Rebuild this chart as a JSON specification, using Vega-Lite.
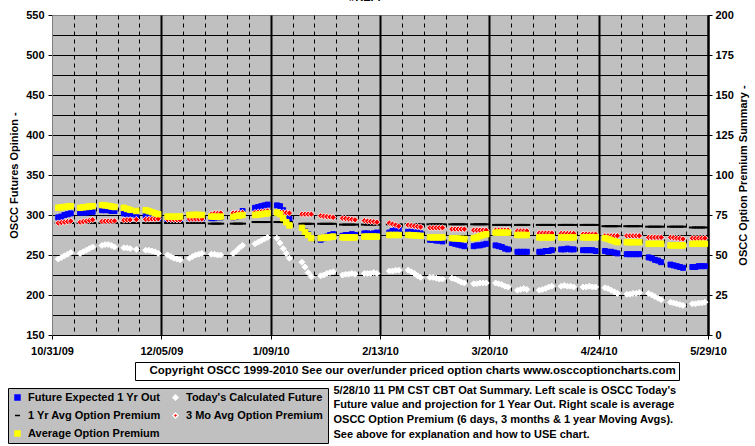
{
"$schema": "https://vega.github.io/schema/vega-lite/v6.json",
"width": 656, "height": 320,
"autosize": {"type": "none"},
"padding": {"left": 52, "top": 15, "right": 47, "bottom": 111},
"background": "#ffffff",
"title": {"text": "#REF!", "fontSize": 11, "fontWeight": "bold", "font": "Liberation Sans", "color": "#000000", "anchor": "middle", "dx": -15, "dy": -6, "offset": 0},
"data": {"values": [
{"d":"2009/11/02","f1":297,"f2":245,"p1":70,"p2":70.0,"p3":79.5},
{"d":"2009/11/03","f1":298,"f2":247,"p1":70,"p2":70.3,"p3":79.8},
{"d":"2009/11/04","f1":300,"f2":249,"p1":70,"p2":70.6,"p3":80.0},
{"d":"2009/11/05","f1":301,"f2":251,"p1":70,"p2":70.9,"p3":80.3},
{"d":"2009/11/06","f1":302,"f2":253,"p1":70,"p2":71.2,"p3":80.5},
{"d":"2009/11/09","f1":303,"f2":252,"p1":70,"p2":70.5,"p3":79.5},
{"d":"2009/11/10","f1":303,"f2":254,"p1":70,"p2":70.9,"p3":79.8},
{"d":"2009/11/11","f1":303,"f2":256,"p1":70,"p2":71.2,"p3":80.0},
{"d":"2009/11/12","f1":304,"f2":258,"p1":70,"p2":71.6,"p3":80.3},
{"d":"2009/11/13","f1":304,"f2":260,"p1":70,"p2":72.0,"p3":80.5},
{"d":"2009/11/16","f1":306,"f2":262,"p1":70,"p2":71.0,"p3":81.2},
{"d":"2009/11/17","f1":306,"f2":263,"p1":70,"p2":71.1,"p3":81.0},
{"d":"2009/11/18","f1":306,"f2":263,"p1":70,"p2":71.2,"p3":80.7},
{"d":"2009/11/19","f1":305,"f2":262,"p1":70,"p2":71.2,"p3":80.3},
{"d":"2009/11/20","f1":305,"f2":260,"p1":70,"p2":71.3,"p3":80.0},
{"d":"2009/11/23","f1":302,"f2":259,"p1":70,"p2":71.8,"p3":79.5},
{"d":"2009/11/24","f1":301,"f2":259,"p1":70,"p2":72.0,"p3":78.8},
{"d":"2009/11/25","f1":301,"f2":258,"p1":70,"p2":72.0,"p3":78.2},
{"d":"2009/11/27","f1":300,"f2":257,"p1":70,"p2":72.2,"p3":77.5},
{"d":"2009/11/30","f1":299,"f2":256,"p1":70,"p2":72.3,"p3":78.0},
{"d":"2009/12/01","f1":298,"f2":256,"p1":70,"p2":72.4,"p3":77.4},
{"d":"2009/12/02","f1":297,"f2":255,"p1":70,"p2":72.5,"p3":76.8},
{"d":"2009/12/03","f1":297,"f2":254,"p1":70,"p2":72.5,"p3":76.1},
{"d":"2009/12/04","f1":296,"f2":252,"p1":70,"p2":72.6,"p3":75.5},
{"d":"2009/12/07","f1":294,"f2":250,"p1":70,"p2":72.3,"p3":74.0},
{"d":"2009/12/08","f1":294,"f2":248,"p1":70,"p2":72.2,"p3":74.0},
{"d":"2009/12/09","f1":293,"f2":246,"p1":70,"p2":72.1,"p3":73.8},
{"d":"2009/12/10","f1":294,"f2":245,"p1":70,"p2":72.0,"p3":74.0},
{"d":"2009/12/11","f1":294,"f2":244,"p1":70,"p2":72.0,"p3":74.0},
{"d":"2009/12/14","f1":296,"f2":246,"p1":70,"p2":72.5,"p3":75.0},
{"d":"2009/12/15","f1":296,"f2":248,"p1":70,"p2":72.5,"p3":75.0},
{"d":"2009/12/16","f1":296,"f2":250,"p1":70,"p2":72.5,"p3":75.2},
{"d":"2009/12/17","f1":296,"f2":251,"p1":70,"p2":72.5,"p3":75.0},
{"d":"2009/12/18","f1":296,"f2":252,"p1":70,"p2":72.5,"p3":75.0},
{"d":"2009/12/21","f1":296,"f2":251,"p1":69.6,"p2":75.5,"p3":74.0},
{"d":"2009/12/22","f1":296,"f2":251,"p1":69.6,"p2":76.0,"p3":74.0},
{"d":"2009/12/23","f1":297,"f2":250,"p1":69.6,"p2":76.0,"p3":73.8},
{"d":"2009/12/24","f1":297,"f2":250,"p1":69.6,"p2":76.2,"p3":74.0},
{"d":"2009/12/28","f1":297,"f2":252,"p1":69.6,"p2":76.2,"p3":73.8},
{"d":"2009/12/29","f1":298,"f2":255,"p1":69.6,"p2":76.3,"p3":74.3},
{"d":"2009/12/30","f1":300,"f2":259,"p1":69.6,"p2":76.3,"p3":74.7},
{"d":"2009/12/31","f1":305,"f2":262,"p1":69.6,"p2":76.5,"p3":75.0},
{"d":"2010/01/04","f1":309,"f2":264,"p1":70.6,"p2":76.5,"p3":75.0},
{"d":"2010/01/05","f1":310,"f2":266,"p1":70.6,"p2":76.8,"p3":75.3},
{"d":"2010/01/06","f1":311,"f2":268,"p1":70.6,"p2":77.0,"p3":75.5},
{"d":"2010/01/07","f1":312,"f2":270,"p1":70.6,"p2":77.3,"p3":75.8},
{"d":"2010/01/08","f1":313,"f2":272,"p1":70.6,"p2":77.5,"p3":76.0},
{"d":"2010/01/11","f1":312,"f2":271,"p1":70.6,"p2":77.0,"p3":76.5},
{"d":"2010/01/12","f1":311,"f2":265,"p1":70.6,"p2":76.8,"p3":75.5},
{"d":"2010/01/13","f1":306,"f2":258,"p1":70.6,"p2":76.6,"p3":73.0},
{"d":"2010/01/14","f1":300,"f2":252,"p1":70.6,"p2":76.4,"p3":70.5},
{"d":"2010/01/15","f1":295,"f2":246,"p1":70.6,"p2":76.2,"p3":68.5},
{"d":"2010/01/19","f1":286,"f2":241,"p1":69.5,"p2":75.5,"p3":67.0},
{"d":"2010/01/20","f1":280,"f2":235,"p1":69.5,"p2":75.5,"p3":64.5},
{"d":"2010/01/21","f1":276,"f2":228,"p1":69.5,"p2":75.5,"p3":62.5},
{"d":"2010/01/22","f1":271,"f2":223,"p1":69.5,"p2":75.5,"p3":60.5},
{"d":"2010/01/25","f1":269,"f2":224,"p1":69.5,"p2":74.5,"p3":60.5},
{"d":"2010/01/26","f1":271,"f2":225,"p1":69.5,"p2":74.2,"p3":60.8},
{"d":"2010/01/27","f1":273,"f2":227,"p1":69.5,"p2":74.0,"p3":61.0},
{"d":"2010/01/28","f1":275,"f2":228,"p1":69.5,"p2":73.8,"p3":61.2},
{"d":"2010/01/29","f1":276,"f2":229,"p1":69.5,"p2":73.5,"p3":61.5},
{"d":"2010/02/01","f1":274,"f2":225,"p1":69.0,"p2":73.0,"p3":61.0},
{"d":"2010/02/02","f1":275,"f2":226,"p1":69.0,"p2":72.8,"p3":61.0},
{"d":"2010/02/03","f1":275,"f2":226,"p1":69.0,"p2":72.5,"p3":61.0},
{"d":"2010/02/04","f1":276,"f2":227,"p1":69.0,"p2":72.3,"p3":61.0},
{"d":"2010/02/05","f1":275,"f2":226,"p1":69.0,"p2":72.0,"p3":61.0},
{"d":"2010/02/08","f1":277,"f2":227,"p1":69.0,"p2":71.5,"p3":61.5},
{"d":"2010/02/09","f1":277,"f2":227,"p1":69.0,"p2":71.2,"p3":61.5},
{"d":"2010/02/10","f1":276,"f2":227,"p1":69.0,"p2":71.0,"p3":61.5},
{"d":"2010/02/11","f1":277,"f2":228,"p1":69.0,"p2":70.8,"p3":61.5},
{"d":"2010/02/12","f1":278,"f2":227,"p1":69.0,"p2":70.5,"p3":61.5},
{"d":"2010/02/16","f1":278,"f2":230,"p1":69.2,"p2":70.0,"p3":62.5},
{"d":"2010/02/17","f1":280,"f2":230,"p1":69.2,"p2":69.3,"p3":62.5},
{"d":"2010/02/18","f1":281,"f2":231,"p1":69.2,"p2":68.7,"p3":62.5},
{"d":"2010/02/19","f1":282,"f2":231,"p1":69.2,"p2":68.0,"p3":62.5},
{"d":"2010/02/22","f1":279,"f2":231,"p1":69.2,"p2":68.7,"p3":62.5},
{"d":"2010/02/23","f1":279,"f2":229,"p1":69.2,"p2":68.4,"p3":62.4},
{"d":"2010/02/24","f1":278,"f2":227,"p1":69.2,"p2":68.1,"p3":62.3},
{"d":"2010/02/25","f1":278,"f2":224,"p1":69.2,"p2":67.8,"p3":62.1},
{"d":"2010/02/26","f1":277,"f2":222,"p1":69.2,"p2":67.5,"p3":62.0},
{"d":"2010/03/01","f1":269,"f2":222,"p1":69.2,"p2":67.0,"p3":61.0},
{"d":"2010/03/02","f1":269,"f2":222,"p1":69.2,"p2":67.0,"p3":61.0},
{"d":"2010/03/03","f1":268,"f2":221,"p1":69.2,"p2":67.0,"p3":61.0},
{"d":"2010/03/04","f1":268,"f2":220,"p1":69.2,"p2":67.0,"p3":61.0},
{"d":"2010/03/05","f1":267,"f2":220,"p1":69.2,"p2":67.0,"p3":61.0},
{"d":"2010/03/08","f1":265,"f2":221,"p1":69.2,"p2":66.2,"p3":60.5},
{"d":"2010/03/09","f1":264,"f2":220,"p1":69.2,"p2":66.2,"p3":60.4},
{"d":"2010/03/10","f1":263,"f2":218,"p1":69.2,"p2":66.2,"p3":60.3},
{"d":"2010/03/11","f1":262,"f2":216,"p1":69.2,"p2":66.2,"p3":60.1},
{"d":"2010/03/12","f1":261,"f2":215,"p1":69.2,"p2":66.2,"p3":60.0},
{"d":"2010/03/15","f1":261,"f2":214,"p1":69.2,"p2":65.5,"p3":60.5},
{"d":"2010/03/16","f1":262,"f2":214,"p1":69.2,"p2":65.5,"p3":61.0},
{"d":"2010/03/17","f1":262,"f2":215,"p1":69.2,"p2":65.5,"p3":61.8},
{"d":"2010/03/18","f1":263,"f2":215,"p1":69.2,"p2":65.5,"p3":62.5},
{"d":"2010/03/19","f1":264,"f2":215,"p1":69.2,"p2":65.5,"p3":63.0},
{"d":"2010/03/22","f1":262,"f2":215,"p1":68.8,"p2":65.5,"p3":64.0},
{"d":"2010/03/23","f1":261,"f2":214,"p1":68.8,"p2":65.5,"p3":64.0},
{"d":"2010/03/24","f1":260,"f2":213,"p1":68.8,"p2":65.5,"p3":64.0},
{"d":"2010/03/25","f1":258,"f2":211,"p1":68.8,"p2":65.5,"p3":64.0},
{"d":"2010/03/26","f1":257,"f2":210,"p1":68.8,"p2":65.5,"p3":64.0},
{"d":"2010/03/29","f1":254,"f2":206,"p1":68.8,"p2":65.0,"p3":62.5},
{"d":"2010/03/30","f1":254,"f2":207,"p1":68.8,"p2":65.0,"p3":62.5},
{"d":"2010/03/31","f1":254,"f2":208,"p1":68.8,"p2":65.0,"p3":62.5},
{"d":"2010/04/01","f1":254,"f2":207,"p1":68.8,"p2":65.0,"p3":62.5},
{"d":"2010/04/05","f1":254,"f2":206,"p1":68.8,"p2":63.7,"p3":61.0},
{"d":"2010/04/06","f1":254,"f2":207,"p1":68.8,"p2":63.7,"p3":61.0},
{"d":"2010/04/07","f1":255,"f2":208,"p1":68.8,"p2":63.7,"p3":61.0},
{"d":"2010/04/08","f1":255,"f2":210,"p1":68.8,"p2":63.7,"p3":61.0},
{"d":"2010/04/09","f1":256,"f2":211,"p1":68.8,"p2":63.7,"p3":61.0},
{"d":"2010/04/12","f1":257,"f2":211,"p1":68.8,"p2":63.5,"p3":61.0},
{"d":"2010/04/13","f1":257,"f2":212,"p1":68.8,"p2":63.5,"p3":61.0},
{"d":"2010/04/14","f1":258,"f2":211,"p1":68.8,"p2":63.5,"p3":61.0},
{"d":"2010/04/15","f1":257,"f2":211,"p1":68.8,"p2":63.5,"p3":61.0},
{"d":"2010/04/16","f1":257,"f2":210,"p1":68.8,"p2":63.5,"p3":61.0},
{"d":"2010/04/19","f1":256,"f2":210,"p1":68.8,"p2":63.0,"p3":61.0},
{"d":"2010/04/20","f1":256,"f2":210,"p1":68.8,"p2":63.0,"p3":61.0},
{"d":"2010/04/21","f1":256,"f2":211,"p1":68.8,"p2":63.0,"p3":61.0},
{"d":"2010/04/22","f1":256,"f2":210,"p1":68.8,"p2":63.0,"p3":61.0},
{"d":"2010/04/23","f1":255,"f2":210,"p1":68.8,"p2":63.0,"p3":61.0},
{"d":"2010/04/26","f1":255,"f2":209,"p1":68.0,"p2":62.0,"p3":60.5},
{"d":"2010/04/27","f1":254,"f2":208,"p1":68.0,"p2":62.0,"p3":60.0},
{"d":"2010/04/28","f1":254,"f2":206,"p1":68.0,"p2":62.0,"p3":59.3},
{"d":"2010/04/29","f1":253,"f2":204,"p1":68.0,"p2":62.0,"p3":58.6},
{"d":"2010/04/30","f1":252,"f2":202,"p1":68.0,"p2":62.0,"p3":58.0},
{"d":"2010/05/03","f1":251,"f2":201,"p1":68.0,"p2":62.0,"p3":58.0},
{"d":"2010/05/04","f1":251,"f2":201,"p1":68.0,"p2":62.0,"p3":58.0},
{"d":"2010/05/05","f1":251,"f2":202,"p1":68.0,"p2":62.0,"p3":58.0},
{"d":"2010/05/06","f1":251,"f2":202,"p1":68.0,"p2":62.0,"p3":58.0},
{"d":"2010/05/07","f1":251,"f2":203,"p1":68.0,"p2":62.0,"p3":58.0},
{"d":"2010/05/10","f1":247,"f2":202,"p1":67.7,"p2":61.0,"p3":57.0},
{"d":"2010/05/11","f1":246,"f2":200,"p1":67.7,"p2":61.0,"p3":57.0},
{"d":"2010/05/12","f1":244,"f2":198,"p1":67.7,"p2":61.0,"p3":57.0},
{"d":"2010/05/13","f1":243,"f2":196,"p1":67.7,"p2":61.0,"p3":57.0},
{"d":"2010/05/14","f1":241,"f2":194,"p1":67.7,"p2":61.0,"p3":57.0},
{"d":"2010/05/17","f1":238,"f2":191,"p1":67.7,"p2":61.0,"p3":56.0},
{"d":"2010/05/18","f1":237,"f2":190,"p1":67.7,"p2":60.8,"p3":56.0},
{"d":"2010/05/19","f1":236,"f2":189,"p1":67.7,"p2":60.5,"p3":56.0},
{"d":"2010/05/20","f1":235,"f2":188,"p1":67.7,"p2":60.3,"p3":56.0},
{"d":"2010/05/21","f1":234,"f2":187,"p1":67.7,"p2":60.0,"p3":56.0},
{"d":"2010/05/24","f1":235,"f2":189,"p1":67.2,"p2":60.5,"p3":57.0},
{"d":"2010/05/25","f1":235,"f2":189,"p1":67.2,"p2":60.5,"p3":57.0},
{"d":"2010/05/26","f1":236,"f2":190,"p1":67.2,"p2":60.5,"p3":57.0},
{"d":"2010/05/27","f1":236,"f2":190,"p1":67.2,"p2":60.5,"p3":57.0},
{"d":"2010/05/28","f1":236,"f2":191,"p1":67.2,"p2":60.5,"p3":57.0}
]},
"encoding": {
  "x": {"field": "d", "type": "temporal",
    "scale": {"domain": [{"year": 2009, "month": 10, "date": 31}, {"year": 2010, "month": 5, "date": 29}]},
    "axis": {
      "values": [
        {"year":2009,"month":10,"date":31},{"year":2009,"month":11,"date":7},{"year":2009,"month":11,"date":14},{"year":2009,"month":11,"date":21},{"year":2009,"month":11,"date":28},
        {"year":2009,"month":12,"date":5},{"year":2009,"month":12,"date":12},{"year":2009,"month":12,"date":19},{"year":2009,"month":12,"date":26},{"year":2010,"month":1,"date":2},
        {"year":2010,"month":1,"date":9},{"year":2010,"month":1,"date":16},{"year":2010,"month":1,"date":23},{"year":2010,"month":1,"date":30},{"year":2010,"month":2,"date":6},
        {"year":2010,"month":2,"date":13},{"year":2010,"month":2,"date":20},{"year":2010,"month":2,"date":27},{"year":2010,"month":3,"date":6},{"year":2010,"month":3,"date":13},
        {"year":2010,"month":3,"date":20},{"year":2010,"month":3,"date":27},{"year":2010,"month":4,"date":3},{"year":2010,"month":4,"date":10},{"year":2010,"month":4,"date":17},
        {"year":2010,"month":4,"date":24},{"year":2010,"month":5,"date":1},{"year":2010,"month":5,"date":8},{"year":2010,"month":5,"date":15},{"year":2010,"month":5,"date":22},
        {"year":2010,"month":5,"date":29}
      ],
      "format": "%-m/%d/%y",
      "labelExpr": "round((datum.value - datetime(2009,9,31))/604800000) % 5 == 0 ? datum.label : ''",
      "labelOverlap": false, "labelFlush": false,
      "labelFontSize": 11, "labelFontWeight": "bold", "labelColor": "#000000", "labelPadding": 6,
      "tickSize": 4, "tickColor": "#000000",
      "tickOpacity": {"condition": {"test": "round((datum.value - datetime(2009,9,31))/604800000) % 5 == 0", "value": 1}, "value": 0},
      "domainColor": "#000000", "domainWidth": 1,
      "grid": true, "gridColor": "#000000",
      "gridDash": {"condition": {"test": "round((datum.value - datetime(2009,9,31))/604800000) % 5 == 0", "value": []}, "value": [4, 4]},
      "gridWidth": {"condition": {"test": "round((datum.value - datetime(2009,9,31))/604800000) % 5 == 0", "value": 2}, "value": 1},
      "gridOpacity": {"condition": {"test": "datum.value < datetime(2009,10,1)", "value": 0}, "value": 1},
      "title": ["5/28/10 11 PM CST CBT Oat Summary. Left scale is OSCC Today's", "Future value and projection for 1 Year Out. Right scale is average", "OSCC Option Premium (6  days, 3 months & 1 year Moving  Avgs).", "See above for explanation and how to USE chart."],
      "titleFontSize": 11, "titleFontWeight": "bold", "titleColor": "#000000",
      "titleAlign": "left", "titleBaseline": "top", "titleAngle": 0,
      "titleX": 281, "titleY": 49, "titleLineHeight": 14.7
    }
  },
  "fill": {"field": "key", "type": "nominal",
    "scale": {"domain": ["f1", "p1", "p3", "f2", "p2"], "range": ["#0000ff", "#000000", "#ffff00", "#ffffff", "#ff0000"]},
    "legend": {"orient": "none", "legendX": -44, "legendY": 373, "title": null, "columns": 2, "columnPadding": 9, "rowPadding": 6, "padding": 4, "symbolSize": 25, "symbolStrokeWidth": 1.5, "symbolOpacity": 1, "labelOffset": 5, "labelFontSize": 11, "labelFontWeight": "bold", "labelColor": "#000000", "labelLimit": 0, "fillColor": "#c0c0c0", "strokeColor": "#000000",
      "labelExpr": "datum.label == 'f1' ? 'Future Expected 1 Yr Out' : datum.label == 'f2' ? \"Today's Calculated Future\" : datum.label == 'p1' ? '1 Yr Avg Option Premium' : datum.label == 'p2' ? '3 Mo Avg Option Premium' : 'Average Option Premium'"}
  },
  "stroke": {"field": "key", "type": "nominal",
    "scale": {"domain": ["f1", "p1", "p3", "f2", "p2"], "range": ["#0000ff", "#000000", "#ffff00", "#ffffff", "#ffffff"]},
    "legend": {"orient": "none", "legendX": -44, "legendY": 373, "title": null, "columns": 2, "columnPadding": 9, "rowPadding": 6, "padding": 4, "symbolSize": 25, "symbolStrokeWidth": 1.5, "symbolOpacity": 1, "labelOffset": 5, "labelFontSize": 11, "labelFontWeight": "bold", "labelColor": "#000000", "labelLimit": 0, "fillColor": "#c0c0c0", "strokeColor": "#000000",
      "labelExpr": "datum.label == 'f1' ? 'Future Expected 1 Yr Out' : datum.label == 'f2' ? \"Today's Calculated Future\" : datum.label == 'p1' ? '1 Yr Avg Option Premium' : datum.label == 'p2' ? '3 Mo Avg Option Premium' : 'Average Option Premium'"}
  },
  "shape": {"field": "key", "type": "nominal",
    "scale": {"domain": ["f1", "p1", "p3", "f2", "p2"], "range": ["square", "stroke", "square", "diamond", "diamond"]},
    "legend": {"orient": "none", "legendX": -44, "legendY": 373, "title": null, "columns": 2, "columnPadding": 9, "rowPadding": 6, "padding": 4, "symbolSize": 25, "symbolStrokeWidth": 1.5, "symbolOpacity": 1, "labelOffset": 5, "labelFontSize": 11, "labelFontWeight": "bold", "labelColor": "#000000", "labelLimit": 0, "fillColor": "#c0c0c0", "strokeColor": "#000000",
      "labelExpr": "datum.label == 'f1' ? 'Future Expected 1 Yr Out' : datum.label == 'f2' ? \"Today's Calculated Future\" : datum.label == 'p1' ? '1 Yr Avg Option Premium' : datum.label == 'p2' ? '3 Mo Avg Option Premium' : 'Average Option Premium'"}
  }
},
"layer": [
  {
    "encoding": {
      "y": {"field": "val", "type": "quantitative",
        "scale": {"domain": [150, 550], "nice": false, "zero": false},
        "axis": {"orient": "left",
          "values": [150, 175, 200, 225, 250, 275, 300, 325, 350, 375, 400, 425, 450, 475, 500, 525, 550],
          "labelExpr": "datum.value % 50 == 0 ? datum.label : ''",
          "labelOverlap": false, "labelFlush": false,
          "labelFontSize": 11, "labelFontWeight": "bold", "labelColor": "#000000", "labelPadding": 4,
          "tickSize": 4, "tickColor": "#000000",
          "tickOpacity": {"condition": {"test": "datum.value % 50 == 0", "value": 1}, "value": 0},
          "domainColor": "#808080",
          "grid": true, "gridColor": "#000000", "gridWidth": 1,
          "gridOpacity": {"condition": {"test": "datum.value >= 550", "value": 0}, "value": 1},
          "title": "OSCC Futures Opinion -", "titleFontSize": 11, "titleFontWeight": "bold", "titleColor": "#000000", "titlePadding": 6}
      }
    },
    "layer": [
      {
        "transform": [{"fold": ["f1"], "as": ["key", "val"]}],
        "mark": {"type": "point", "filled": true, "size": 25, "strokeWidth": 1, "opacity": 1},
        "encoding": {
          "opacity": {"datum": "Copyright OSCC 1999-2010 See our over/under priced option charts www.osccoptioncharts.com", "type": "ordinal",
            "scale": {"range": [1, 1]},
            "legend": {"orient": "none", "legendX": 83, "legendY": 347, "title": null, "padding": 3, "symbolSize": 0, "symbolOpacity": 0, "symbolStrokeWidth": 0, "labelOffset": 0, "labelFontSize": 11.5, "labelFontWeight": "bold", "labelColor": "#000000", "labelLimit": 0, "fillColor": "#ffffff", "strokeColor": "#000000"}
          }
        }
      },
      {
        "transform": [{"fold": ["f2"], "as": ["key", "val"]}],
        "mark": {"type": "point", "filled": true, "size": 36, "strokeWidth": 1, "opacity": 1}
      }
    ]
  },
  {
    "encoding": {
      "y": {"field": "val", "type": "quantitative",
        "scale": {"domain": [0, 200], "nice": false},
        "axis": {"orient": "right",
          "values": [0, 25, 50, 75, 100, 125, 150, 175, 200],
          "labelOverlap": false, "labelFlush": false,
          "labelFontSize": 11, "labelFontWeight": "bold", "labelColor": "#000000", "labelPadding": 3,
          "tickSize": 4, "tickColor": "#000000",
          "domainColor": "#000000", "domainWidth": 2,
          "grid": false,
          "title": "OSCC Option Premium Summary -", "titleAngle": 270, "titleBaseline": "top", "titleFontSize": 11, "titleFontWeight": "bold", "titleColor": "#000000", "titlePadding": 4}
      }
    },
    "layer": [
      {
        "transform": [{"fold": ["p1"], "as": ["key", "val"]}],
        "mark": {"type": "point", "filled": true, "size": 49, "strokeWidth": 2, "opacity": 1}
      },
      {
        "transform": [{"fold": ["p2"], "as": ["key", "val"]}],
        "mark": {"type": "point", "filled": true, "size": 40, "strokeWidth": 0.8, "opacity": 1}
      },
      {
        "transform": [{"fold": ["p3"], "as": ["key", "val"]}],
        "mark": {"type": "point", "filled": true, "size": 30, "strokeWidth": 1, "opacity": 1}
      }
    ]
  }
],
"resolve": {"scale": {"y": "independent"}},
"config": {
  "font": "Liberation Sans",
  "view": {"fill": "#c0c0c0", "stroke": "#808080", "strokeWidth": 1},
  "axis": {"labelFont": "Liberation Sans", "titleFont": "Liberation Sans"},
  "legend": {"labelFont": "Liberation Sans", "titleFont": "Liberation Sans"}
}
}
